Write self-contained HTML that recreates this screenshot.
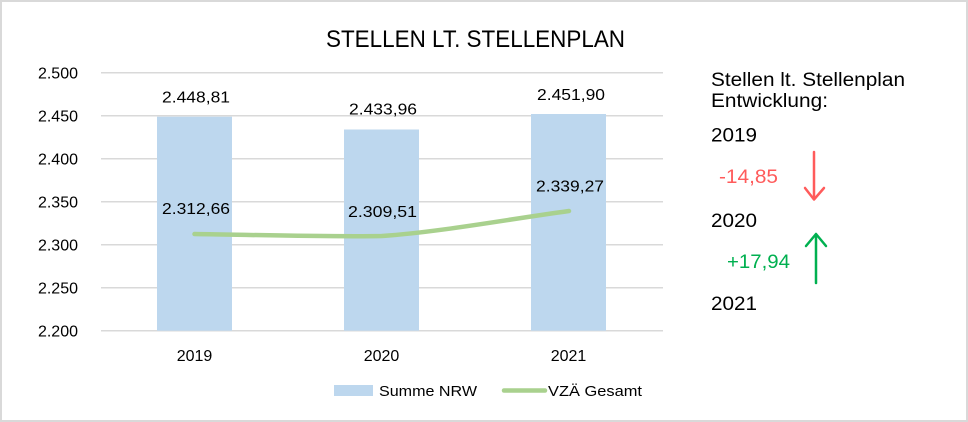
<!DOCTYPE html>
<html><head><meta charset="utf-8"><style>
html,body{margin:0;padding:0;background:#fff;}
svg{display:block;}
text{font-family:"Liberation Sans",sans-serif;}
</style></head><body>
<svg width="968" height="422" viewBox="0 0 968 422" xmlns="http://www.w3.org/2000/svg">
<rect x="0" y="0" width="968" height="422" fill="#d9d9d9"/>
<rect x="2" y="2" width="964" height="418" fill="#ffffff"/>
<text x="326" y="47" font-size="24" textLength="299" lengthAdjust="spacingAndGlyphs" fill="#000">STELLEN LT. STELLENPLAN</text>
<g stroke="#d9d9d9" stroke-width="1.5">
<line x1="101" y1="72.7" x2="663" y2="72.7"/>
<line x1="101" y1="115.7" x2="663" y2="115.7"/>
<line x1="101" y1="158.7" x2="663" y2="158.7"/>
<line x1="101" y1="201.7" x2="663" y2="201.7"/>
<line x1="101" y1="244.7" x2="663" y2="244.7"/>
<line x1="101" y1="287.7" x2="663" y2="287.7"/>
<line x1="101" y1="330.7" x2="663" y2="330.7"/>
</g>
<g font-size="16" fill="#000" text-anchor="end">
<text x="78" y="78.7">2.500</text>
<text x="78" y="121.7">2.450</text>
<text x="78" y="164.7">2.400</text>
<text x="78" y="207.7">2.350</text>
<text x="78" y="250.7">2.300</text>
<text x="78" y="293.7">2.250</text>
<text x="78" y="336.7">2.200</text>
</g>
<g fill="#bdd7ee">
<rect x="157" y="116.7" width="75" height="214"/>
<rect x="344" y="129.5" width="75" height="201.2"/>
<rect x="531" y="114" width="75" height="216.7"/>
</g>
<path d="M194.5,234 C260,235 330,237 382,236 C440,232 510,219 569,211" fill="none" stroke="#a9d18e" stroke-width="4.5" stroke-linecap="round"/>
<g font-size="16" fill="#000">
<text x="162" y="102.5" textLength="68" lengthAdjust="spacingAndGlyphs">2.448,81</text>
<text x="349" y="114.5" textLength="68" lengthAdjust="spacingAndGlyphs">2.433,96</text>
<text x="537" y="100" textLength="68" lengthAdjust="spacingAndGlyphs">2.451,90</text>
<text x="162" y="214" textLength="68" lengthAdjust="spacingAndGlyphs">2.312,66</text>
<text x="348" y="217" textLength="69" lengthAdjust="spacingAndGlyphs">2.309,51</text>
<text x="536" y="191.5" textLength="68" lengthAdjust="spacingAndGlyphs">2.339,27</text>
</g>
<g font-size="16" fill="#000" text-anchor="middle">
<text x="194.5" y="361">2019</text>
<text x="381.5" y="361">2020</text>
<text x="568.5" y="361">2021</text>
</g>
<rect x="334" y="385" width="39" height="11" fill="#bdd7ee"/>
<text x="379" y="396" font-size="15" textLength="98" lengthAdjust="spacingAndGlyphs" fill="#000">Summe NRW</text>
<line x1="504" y1="390.5" x2="545" y2="390.5" stroke="#a9d18e" stroke-width="4.5" stroke-linecap="round"/>
<text x="548" y="396" font-size="15" textLength="94" lengthAdjust="spacingAndGlyphs" fill="#000">VZÄ Gesamt</text>
<g font-size="19" fill="#000">
<text x="711" y="86" textLength="194" lengthAdjust="spacingAndGlyphs">Stellen lt. Stellenplan</text>
<text x="711" y="107" textLength="117" lengthAdjust="spacingAndGlyphs">Entwicklung:</text>
<text x="711" y="141.5" textLength="46" lengthAdjust="spacingAndGlyphs">2019</text>
<text x="711" y="227" textLength="46" lengthAdjust="spacingAndGlyphs">2020</text>
<text x="711" y="310" textLength="46" lengthAdjust="spacingAndGlyphs">2021</text>
</g>
<text x="719" y="183" font-size="19" fill="#ff5b5b" textLength="59" lengthAdjust="spacingAndGlyphs">-14,85</text>
<text x="727" y="268" font-size="19" fill="#00b050" textLength="63" lengthAdjust="spacingAndGlyphs">+17,94</text>
<g stroke="#ff5b5b" stroke-width="2.5" fill="none" stroke-linecap="round" stroke-linejoin="round">
<line x1="814" y1="152" x2="814" y2="199"/>
<polyline points="805,188 814,199.5 824,188"/>
</g>
<g stroke="#00b050" stroke-width="2.5" fill="none" stroke-linecap="round" stroke-linejoin="round">
<line x1="816" y1="235" x2="816" y2="283"/>
<polyline points="806,246 816,234 826,246"/>
</g>
</svg>
</body></html>
